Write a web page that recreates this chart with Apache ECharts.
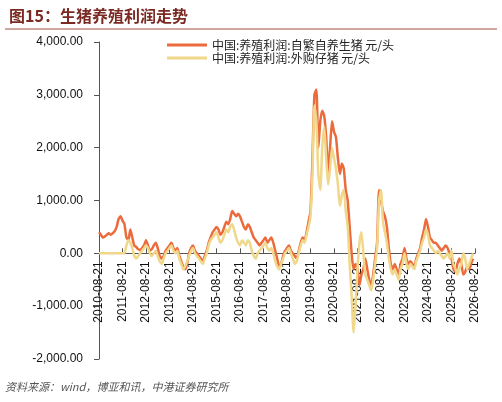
<!DOCTYPE html><html><head><meta charset="utf-8"><script src="https://cdn.jsdelivr.net/npm/echarts@6/dist/echarts.min.js"></script>
<style>body{margin:0;background:#fff}#c{width:502px;height:402px}</style></head><body><div id="c"></div><script>
const seriesNames=['中国:养殖利润:自繁自养生猪 元/头','中国:养殖利润:外购仔猪 元/头'];
const selfBred=[400,350,300,320,350,380,350,380,420,500,650,700,
620,550,300,250,450,300,150,120,80,60,100,150,
250,150,50,80,150,200,100,-50,-100,-50,50,100,
150,200,100,50,100,-50,-150,-250,-300,-200,0,100,
150,50,0,-50,-100,-150,-50,50,200,300,400,450,
500,450,350,400,500,600,550,650,800,750,700,750,
700,600,500,450,550,500,400,300,250,200,150,200,
250,300,200,250,300,200,50,-100,-250,-200,-50,50,
100,150,50,0,-50,-100,50,200,300,250,400,600,
800,1800,3000,3100,2000,2500,2700,2600,2200,1500,2000,2500,
2300,2200,1800,1500,1700,1600,1200,1000,500,0,-300,-200,
-300,-600,-400,-300,-100,-300,-500,-600,-400,-100,200,1200,
1000,800,700,500,100,-200,-300,-200,-300,-400,-200,-100,
100,-100,-200,-150,-200,-250,-100,0,100,300,450,650,
500,300,250,200,200,150,100,50,100,150,100,0,
-100,-300,-350,-200,-100,-200,-400,-350,-250,-300,-200,-100];
const purchased=[0,0,0,0,0,0,0,0,0,0,0,0,
0,0,150,250,200,100,-50,-100,-50,0,50,100,
150,100,0,-50,0,50,-50,-150,-200,-100,0,50,
100,150,50,0,50,-100,-200,-300,-250,-150,-50,50,
100,0,-50,-100,-150,-200,-100,0,150,250,300,350,
400,300,200,250,350,450,400,500,550,450,300,200,
150,250,200,150,250,200,50,-50,-100,0,50,100,
150,200,100,50,100,0,-150,-250,-300,-200,-100,0,
50,100,0,-100,-200,-150,0,150,250,200,350,500,
700,1500,2800,2500,1500,1200,2000,2400,1800,1300,1600,2000,
1800,1600,1300,900,1100,1200,800,500,-200,-800,-1500,-1000,
-300,200,400,0,-400,-500,-600,-700,-500,-200,100,1000,
1200,600,400,200,-100,-300,-400,-300,-400,-500,-300,-200,
0,-200,-300,-200,-250,-300,-150,-50,50,200,300,450,
350,150,100,50,0,50,0,-50,-100,-50,0,-100,
50,-200,-300,-400,-300,-200,0,-100,-300,-200,-100,0];
const dates=[];
for(let i=0;i<=selfBred.length;i++){const m=7+i;const y=2010+Math.floor(m/12);const mm=m%12+1;dates.push(y+'-'+String(mm).padStart(2,'0')+'-21');}
const fmt=v=>v.toLocaleString('en-US',{minimumFractionDigits:2,maximumFractionDigits:2});
const yMin=-2000,yMax=4000,gridTop=42,gridBottom=43,H=402;
const zeroOffset=-(H-gridTop-gridBottom)*(0-yMin)/(yMax-yMin);
const c=echarts.init(document.getElementById('c'));
c.setOption({
 animation:false,
 textStyle:{fontFamily:'Liberation Sans, Noto Sans CJK SC'},
 title:{text:'图15：生猪养殖利润走势',left:4,top:3,textStyle:{color:'#7a2a22',fontSize:16,fontWeight:'bold',fontFamily:'Noto Sans CJK SC'}},
 graphic:[{type:'line',shape:{x1:5,y1:29,x2:497,y2:29},style:{stroke:'#a0503c',lineWidth:1}},
  {type:'text',left:5,top:381,style:{text:'资料来源：wind，博亚和讯，中港证券研究所',fill:'#555',font:'italic 11px Noto Sans CJK SC'}}],
 legend:{top:34,left:162,orient:'vertical',itemGap:1,itemWidth:40,itemHeight:3,icon:'rect',textStyle:{fontSize:12,color:'#222',fontFamily:'Noto Sans CJK SC'},data:seriesNames},
 grid:{left:99,right:27,top:gridTop,bottom:gridBottom,outerBoundsMode:'none',containLabel:false},
 xAxis:{type:'category',boundaryGap:false,data:dates,position:'bottom',offset:zeroOffset,axisLine:{onZero:false,lineStyle:{color:'#555'}},
  axisTick:{inside:true,interval:11,lineStyle:{color:'#555'}},
  axisLabel:{interval:11,rotate:90,fontSize:12,color:'#111'},splitLine:{show:false}},
 yAxis:{type:'value',min:yMin,max:yMax,interval:1000,axisLine:{show:true,lineStyle:{color:'#555'}},axisTick:{show:true},
  splitLine:{show:false},axisLabel:{formatter:fmt,fontSize:12,color:'#111',margin:16}},
 series:[{name:seriesNames[0],type:'line',data:selfBred,symbol:'none',smooth:0.2,lineStyle:{color:'#ec6b3d',width:2.5},itemStyle:{color:'#ec6b3d'},z:2},
  {name:seriesNames[1],type:'line',data:purchased,symbol:'none',smooth:0.2,lineStyle:{color:'#f0d78a',width:2.5},itemStyle:{color:'#f0d78a'},z:3}]
});
</script></body></html>
